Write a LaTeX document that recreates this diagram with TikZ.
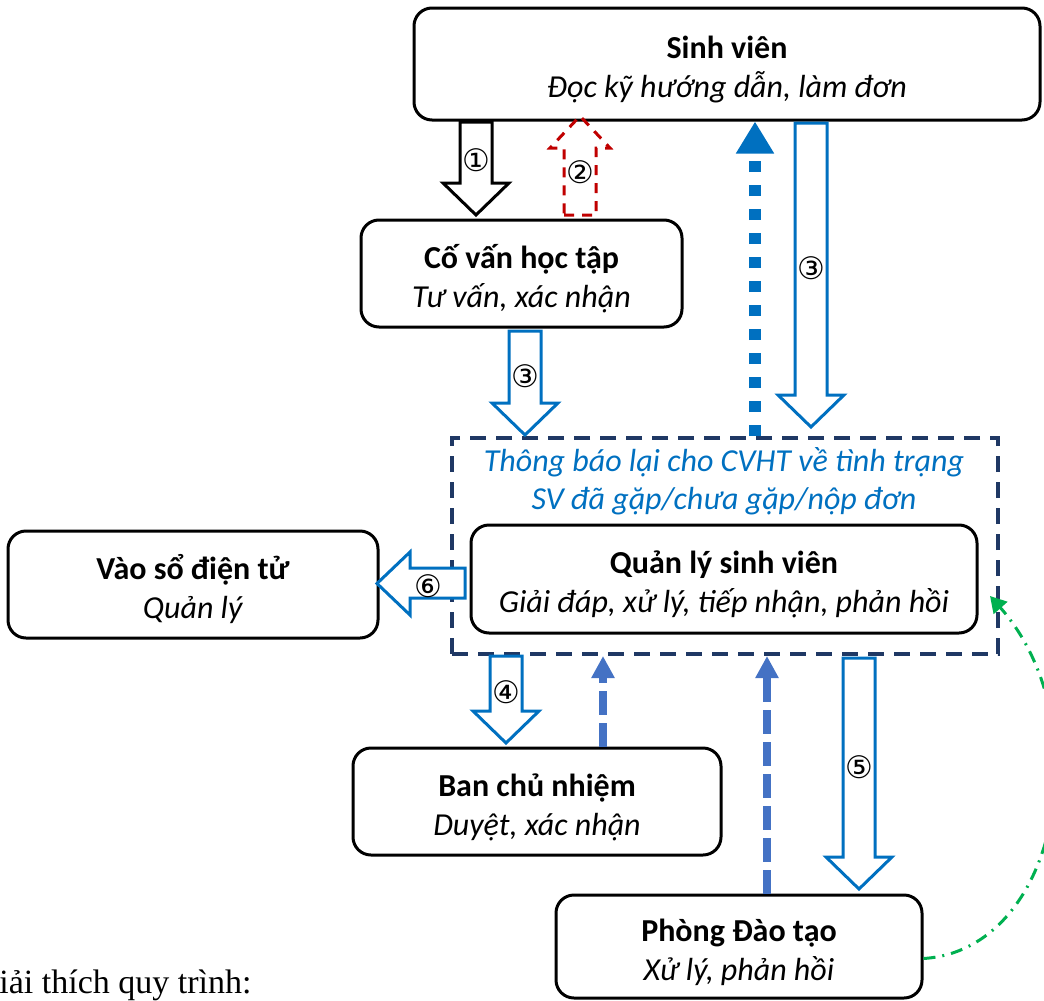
\documentclass[tikz,border=0pt]{standalone}
\usepackage{fontspec}
\setmainfont{Carlito}
\newfontfamily\numfont{DejaVu Sans}
\newfontfamily\notefont{Liberation Serif}
\usetikzlibrary{arrows.meta}

\definecolor{svblue}{HTML}{0070C0}
\definecolor{navy}{HTML}{1F3864}
\definecolor{midblue}{HTML}{4472C4}
\definecolor{darkred}{HTML}{C00000}
\definecolor{okgreen}{HTML}{00B050}

% box text: title, subtitle
\newcommand{\boxtext}[2]{\rule{0pt}{17pt}\textbf{#1}\\\textit{#2}}

% block arrows: style, name, x, y start, y tip, label y, label
\newcommand{\blkdown}[7]{%
  \draw[#1] (#3-16,#4) -- (#3+16,#4) -- (#3+16,#5-32) -- (#3+33,#5-32)
    -- (#3,#5) -- (#3-33,#5-32) -- (#3-16,#5-32) -- cycle;
  \node[num] (#2) at (#3,#6) {#7};
}
\newcommand{\blkup}[7]{%
  \draw[#1] (#3-16,#4) -- (#3+16,#4) -- (#3+16,#5+32) -- (#3+30,#5+32)
    -- (#3,#5) -- (#3-30,#5+32) -- (#3-16,#5+32) -- cycle;
  \node[num] (#2) at (#3,#6) {#7};
}

\tikzset{
  box/.style={draw, line width=1.5pt, rounded corners=9pt, align=center,
    inner sep=0pt, font=\fontsize{16}{19.5}\selectfont},
  framebox/.style={draw=navy, line width=2pt, dash pattern=on 8pt off 5pt},
  num/.style={inner sep=0pt, font=\numfont\fontsize{15.5}{15.5}\selectfont},
  blackblk/.style={draw=black, line width=1.5pt, fill=white, line join=miter},
  blueblk/.style={draw=svblue, line width=1.5pt, fill=white, line join=miter},
  redblk/.style={draw=darkred, line width=1.5pt, dash pattern=on 5pt off 4pt},
  dotarr/.style={svblue, line width=6pt, dash pattern=on 5.5pt off 6.5pt,
    -{Triangle[width=18pt,length=16pt]}},
  dasharr/.style={midblue, line width=4pt, dash pattern=on 12pt off 4pt,
    -{Triangle[width=11pt,length=11pt]}},
  greenarr/.style={okgreen, line width=1.5pt,
    dash pattern=on 6pt off 3.5pt on 1pt off 3.5pt,
    -{Triangle[width=9pt,length=8pt]}}
}

\begin{document}
\begin{tikzpicture}[x=0.5pt, y=-0.5pt]
  \clip (0,0) rectangle (1044,1001);

  % boxes
  \node[box, minimum width=313pt, minimum height=56pt] (sv) at (727,64)
    {\boxtext{Sinh viên}{Đọc kỹ hướng dẫn, làm đơn}};
  \node[box, minimum width=160.5pt, minimum height=53.5pt] (cv) at (521.5,273.5)
    {\boxtext{Cố vấn học tập}{Tư vấn, xác nhận}};
  \node[framebox, minimum width=273pt, minimum height=108pt] (frame) at (725,546) {};
  \node[align=center, text=svblue, inner sep=0pt,
    font=\fontsize{16}{19}\selectfont\itshape] (notice) at (724,481)
    {Thông báo lại cho CVHT về tình trạng\\SV đã gặp/chưa gặp/nộp đơn};
  \node[box, minimum width=253pt, minimum height=54pt] (ql) at (724,579)
    {\boxtext{Quản lý sinh viên}{Giải đáp, xử lý, tiếp nhận, phản hồi}};
  \node[box, minimum width=185pt, minimum height=53.5pt] (vs) at (193,584.5)
    {\boxtext{Vào sổ điện tử}{Quản lý}};
  \node[box, minimum width=184pt, minimum height=53.5pt] (bcn) at (537,801.5)
    {\boxtext{Ban chủ nhiệm}{Duyệt, xác nhận}};
  \node[box, minimum width=183pt, minimum height=51.5pt] (pdt) at (739,946.5)
    {\boxtext{Phòng Đào tạo}{Xử lý, phản hồi}};

  % block arrows
  \blkdown{blackblk}{n1}{476}{122}{215}{160}{①}
  \blkup{redblk}{n2}{580}{215}{116}{172}{②}
  \blkdown{blueblk}{n3a}{811}{123}{427}{268}{③}
  \blkdown{blueblk}{n3b}{525}{331}{435}{376}{③}
  \blkdown{blueblk}{n4}{506}{656}{743}{692}{④}
  \blkdown{blueblk}{n5}{859}{658}{889}{767}{⑤}
  \draw[blueblk] (465,568) -- (465,598) -- (410,598) -- (410,615)
    -- (377,583.5) -- (410,552) -- (410,568) -- cycle;
  \node[num] (n6) at (428,586) {⑥};

  % feedback arrows
  \coordinate (upsv) at (755,0);
  \coordinate (upbcn) at (603,0);
  \coordinate (uppdt) at (767,0);
  \coordinate (gtip) at (990,596);
  \draw[dotarr] (frame.north -| upsv) -- (sv.south -| upsv);
  \draw[dasharr] (bcn.north -| upbcn) -- (frame.south -| upbcn);
  \draw[dasharr] (pdt.north -| uppdt) -- (frame.south -| uppdt);
  \draw[greenarr] ([yshift=-6pt]pdt.east) .. controls (1060,950) and (1100,720) .. (gtip);

  \node[anchor=base west, inner sep=0pt,
    font=\notefont\fontsize{17}{17}\selectfont] (note) at (-1,993)
    {iải thích quy trình:};
\end{tikzpicture}
\end{document}
